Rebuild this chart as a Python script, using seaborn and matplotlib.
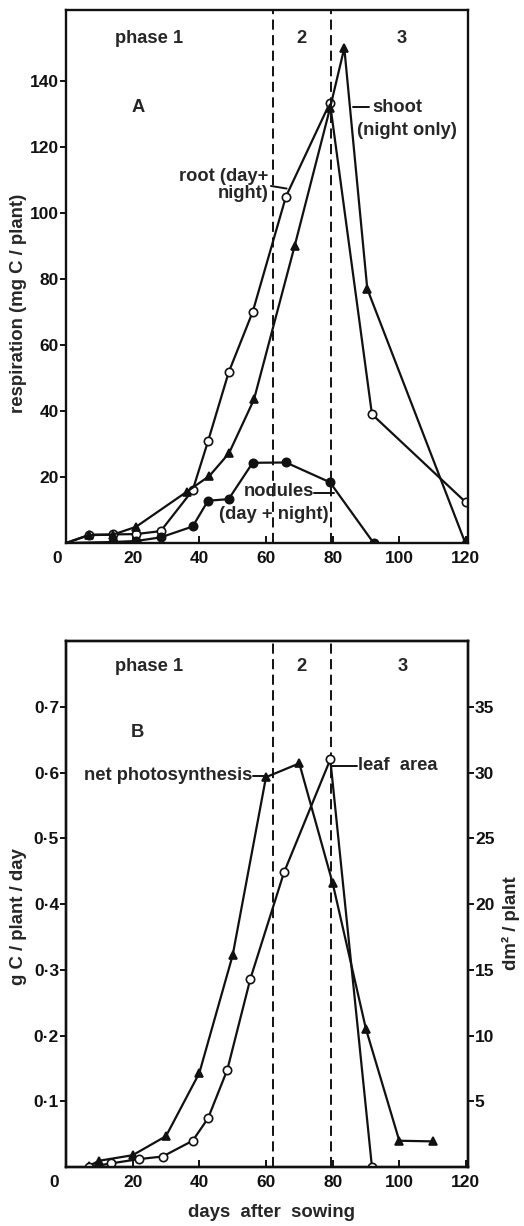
import matplotlib
matplotlib.use("Agg")
import matplotlib.pyplot as plt
import matplotlib.ticker as mticker
import seaborn as sns
import pandas as pd

# ---------------- data (panel A: respiration, mg C / plant) ----------------
root_days = [0, 7, 14, 21, 28.4, 38, 42.6, 48.8, 56, 66, 79.2, 91.8, 120]
root_vals = [0, 2.5, 2.6, 2.7, 3.6, 16, 30.8, 51.7, 70, 105, 133.4, 39, 12.3]

shoot_days = [0, 7, 14, 21, 36.2, 43, 48.9, 56.4, 68.6, 79.2, 83.5, 90.4, 119.7]
shoot_vals = [0, 2.4, 2.5, 4.9, 15.5, 20.3, 27.2, 43.5, 90, 131.7, 150, 77, 0.3]

nod_days = [0, 14, 21, 28.4, 38, 42.6, 48.8, 56, 66, 79.2, 92.3]
nod_vals = [0, 0.3, 0.6, 1.7, 5, 12.8, 13.3, 24.3, 24.4, 18.4, 0]

# ---------------- data (panel B) ----------------
ps_days = [7, 10, 20, 30, 40, 50, 60, 70, 80, 90, 100, 110]
ps_vals = [0.002, 0.0096, 0.018, 0.047, 0.143, 0.322, 0.593, 0.614, 0.432, 0.21, 0.040, 0.039]

leaf_days = [7, 13.6, 21.8, 29, 38, 42.6, 48.4, 55.3, 65.4, 79.3, 91.8]
leaf_vals = [0, 0.28, 0.6, 0.8, 2.0, 3.7, 7.4, 14.3, 22.4, 31.0, 0]

phase_bounds = [62, 79.5]
phase_labels = ["phase 1", "2", "3"]
xticks = [0, 20, 40, 60, 80, 100, 120]
yticksA = [20, 40, 60, 80, 100, 120, 140]
yticksB = [0.1, 0.2, 0.3, 0.4, 0.5, 0.6, 0.7]
yticksB2 = [5, 10, 15, 20, 25, 30, 35]

sns.set_style("ticks")
plt.rcParams['font.family'] = ['Liberation Sans', 'DejaVu Sans']
plt.rcParams['font.weight'] = 'bold'
plt.rcParams['axes.labelweight'] = 'bold'
plt.rcParams['font.size'] = 12

INK = '#111111'
LW = 1.6
FS_T = 13.2   # annotation text size
FS_L = 13.4   # axis label size
fig = plt.figure(figsize=(5.24, 12.26), dpi=100)
axA = fig.add_axes([0.126, 0.5571, 0.767, 0.4347])
axB = fig.add_axes([0.126, 0.0481, 0.767, 0.4290])


def series(ax, d, v, marker, mfc, ms=6, skip_first=False):
    df = pd.DataFrame({'x': d, 'y': v})
    kw = {}
    if skip_first:
        kw['markevery'] = list(range(1, len(d)))
    sns.lineplot(data=df, x='x', y='y', ax=ax, sort=False, color=INK, lw=LW,
                 marker=marker, markersize=ms, markerfacecolor=mfc,
                 markeredgecolor=INK, markeredgewidth=1.2, estimator=None, **kw)


def xfmt(v, p):
    return '' if abs(v) < 1e-9 else f'{v:.0f}'


def style_axes(ax, xmax, zero_x):
    ax.set_xlim(0, xmax)
    for s in ax.spines.values():
        s.set_linewidth(1.7)
        s.set_color(INK)
        s.set_visible(True)
    ax.set_xticks(xticks)
    ax.xaxis.set_major_formatter(mticker.FuncFormatter(xfmt))
    ax.tick_params(axis='x', direction='in', length=5, width=1.4, pad=6,
                   labelsize=12.5, colors=INK)
    ax.tick_params(axis='y', direction='out', length=4, width=1.4, pad=1,
                   labelsize=12.5, colors=INK)
    ax.set_xlabel('')
    ax.set_ylabel('')
    # the "0" label of the x axis sits slightly left of the corner
    ax.annotate('0', xy=(zero_x, 0), xycoords=('data', 'axes fraction'),
                xytext=(0, -8), textcoords='offset pixels', ha='center', va='top',
                fontsize=12.5, fontweight='bold', color=INK, annotation_clip=False)


def dashes(ax):
    for xb in phase_bounds:
        ax.axvline(xb, color=INK, lw=1.4, ls=(0, (5.2, 2.8)))


# ---------------- Panel A ----------------
series(axA, root_days, root_vals, 'o', 'white', skip_first=True)
series(axA, shoot_days, shoot_vals, '^', INK, skip_first=True)
series(axA, nod_days, nod_vals, 'o', INK, skip_first=True)
style_axes(axA, 120.6, -2.8)
axA.set_ylim(0, 161.5)
axA.set_yticks(yticksA)
dashes(axA)
for xt, t in zip([25, 70.7, 100.8], phase_labels):
    axA.text(xt, 153, t, ha='center', va='center', fontsize=FS_T, fontweight='bold')
axA.text(21.5, 132, 'A', ha='center', va='center', fontsize=FS_T, fontweight='bold')
axA.text(60.8, 108.5, 'root (day+\nnight)', ha='right', va='center', fontsize=FS_T,
         fontweight='bold', multialignment='right', linespacing=1.05)
axA.plot([61.5, 66.2], [108.2, 107.4], color=INK, lw=1.4)
axA.text(92, 132, 'shoot', ha='left', va='center', fontsize=FS_T, fontweight='bold')
axA.text(87.3, 125, '(night only)', ha='left', va='center', fontsize=FS_T, fontweight='bold')
axA.plot([86.0, 91.0], [132, 132], color=INK, lw=1.4)
axA.text(64, 15.5, 'nodules', ha='center', va='center', fontsize=FS_T, fontweight='bold')
axA.plot([74.3, 80.3], [15.3, 15.3], color=INK, lw=1.4)
axA.text(62.5, 8.5, '(day + night)', ha='center', va='center', fontsize=FS_T, fontweight='bold')
axA.set_ylabel('respiration (mg C / plant)', fontsize=FS_L, fontweight='bold')
axA.yaxis.label.set_va('center')
axA.yaxis.set_label_coords(-0.119, 0.45)

# ---------------- Panel B ----------------
series(axB, ps_days, ps_vals, '^', INK)
style_axes(axB, 120.6, -3.7)
axB.set_ylim(0, 0.80)
axB.set_yticks(yticksB)
axB.yaxis.set_major_formatter(
    mticker.FuncFormatter(lambda v, p: f'{v:.1f}'.replace('.', '\u00b7')))
dashes(axB)
for xt, t in zip([25, 70.7, 101], phase_labels):
    axB.text(xt, 0.761, t, ha='center', va='center', fontsize=FS_T, fontweight='bold')
axB.text(21.5, 0.661, 'B', ha='center', va='center', fontsize=FS_T, fontweight='bold')
axB.text(56, 0.595, 'net photosynthesis', ha='right', va='center', fontsize=FS_T,
         fontweight='bold')
axB.plot([56.1, 59.6], [0.595, 0.595], color=INK, lw=1.4)
axB.text(87.5, 0.610, 'leaf  area', ha='left', va='center', fontsize=FS_T, fontweight='bold')
axB.plot([79.6, 87.3], [0.610, 0.610], color=INK, lw=1.4)
axB.set_ylabel('g C / plant / day', fontsize=FS_L, fontweight='bold')
axB.yaxis.label.set_va('center')
axB.yaxis.set_label_coords(-0.119, 0.477)
axB.set_xlabel('days  after  sowing', fontsize=FS_L, fontweight='bold')
axB.xaxis.label.set_va('center')
axB.xaxis.set_label_coords(0.512, -0.086)

axB2 = axB.twinx()
series(axB2, leaf_days, leaf_vals, 'o', 'white')
axB2.set_ylim(0, 40)
axB2.set_yticks(yticksB2)
axB2.tick_params(axis='y', direction='out', length=4, width=1.4, pad=1,
                 labelsize=12.5, colors=INK)
for s in axB2.spines.values():
    s.set_linewidth(1.7)
    s.set_color(INK)
axB2.set_xlabel('')
axB2.set_ylabel('dm\u00b2 / plant', fontsize=FS_L, fontweight='bold')
axB2.yaxis.label.set_va('center')
axB2.yaxis.set_label_coords(1.107, 0.464)

fig.savefig('out.png', dpi=100, facecolor='white')
